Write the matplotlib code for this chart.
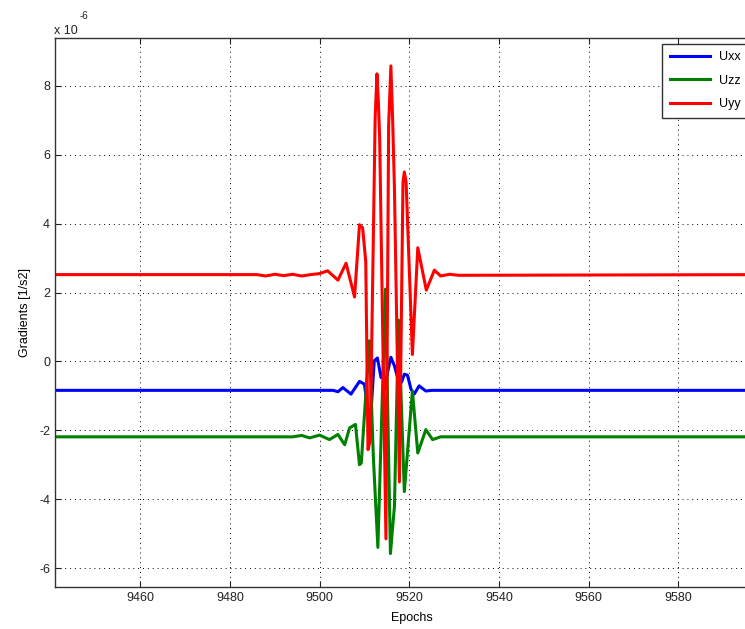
import matplotlib.pyplot as plt
from matplotlib.ticker import FormatStrFormatter

plt.rcParams['font.family'] = ['Liberation Sans', 'DejaVu Sans']
plt.rcParams['axes.unicode_minus'] = False

# values, gradients in units of 1e-6 [1/s2]
uxx_epoch = [9441, 9503, 9504.1, 9505.2, 9507.0, 9508.9, 9510.0, 9511.0, 9511.4, 9512.2,
             9512.9, 9513.7, 9514.2, 9514.6, 9515.2, 9515.9, 9516.7, 9517.4, 9518.3,
             9518.9, 9519.6, 9520.4, 9521.1, 9522.2, 9523.7, 9525, 9600]
uxx = [-0.84, -0.84, -0.88, -0.76, -0.95, -0.58, -0.66, -1.65, -1.6, 0.02,
       0.1, -0.47, -0.3, -0.8, -0.3, 0.12, -0.13, -0.47, -0.6,
       -0.37, -0.4, -0.81, -0.95, -0.71, -0.86, -0.84, -0.84]

uzz_epoch = [9441, 9494, 9496, 9497.8, 9500, 9502.2, 9504.1, 9505.6, 9506.7, 9508.0,
             9508.9, 9509.3, 9511.1, 9512.0, 9513.0, 9514.7, 9515.8, 9516.7, 9517.6,
             9518.9, 9520.7, 9521.9, 9523.7, 9525.2, 9527, 9600]
uzz = [-2.19, -2.19, -2.15, -2.22, -2.14, -2.27, -2.12, -2.42, -1.93, -1.83,
       -3.0, -2.95, 0.6, -2.8, -5.4, 2.1, -5.58, -4.2, 1.2,
       -3.78, -0.86, -2.66, -1.98, -2.27, -2.19, -2.19]

uyy_epoch = [9441, 9486, 9488, 9490, 9492, 9494, 9496, 9498, 9500, 9501.8,
             9504.1, 9505.9, 9507.8, 9508.9, 9509.6, 9510.3, 9510.8, 9511.3, 9512.4,
             9512.8, 9513.1, 9513.4, 9514.8, 9515.4, 9515.9, 9516.3, 9516.7, 9517.8,
             9518.6, 9518.9, 9519.3, 9520.7, 9521.9, 9523.8, 9525.6, 9527, 9529,
             9531, 9600]
uyy = [2.52, 2.52, 2.48, 2.53, 2.49, 2.53, 2.48, 2.52, 2.55, 2.63,
       2.36, 2.85, 1.87, 3.97, 3.88, 2.9, -2.56, -2.3, 7.1,
       8.35, 7.57, 6.5, -5.15, 6.84, 8.58, 7.0, 5.0, -3.5,
       5.2, 5.5, 5.2, 0.2, 3.3, 2.07, 2.65, 2.48, 2.53,
       2.5, 2.52]

x_ticks = [9460, 9480, 9500, 9520, 9540, 9560, 9580]
y_ticks = [-6, -4, -2, 0, 2, 4, 6, 8]

series = [('Uxx', uxx_epoch, uxx, 'blue'),
          ('Uzz', uzz_epoch, uzz, 'green'),
          ('Uyy', uyy_epoch, uyy, 'red')]

fig = plt.figure(figsize=(7.45, 6.29), dpi=100)
# axes runs past the right edge, as in the cropped original
ax = fig.add_axes([55 / 745, 42 / 629, 713 / 745, 549 / 629])

for name, ep, val, col in series:
    ax.plot(ep, val, color=col, lw=2.2, label=name)

ax.set_xlim(9441, 9600)
ax.set_ylim(-6.55, 9.39)
ax.set_xticks(x_ticks)
ax.set_yticks(y_ticks)
ax.yaxis.set_major_formatter(FormatStrFormatter('%g'))

# MATLAB style exponent label above the y axis
fig.text(54 / 745, 1 - 34 / 629, 'x 10', fontsize=9, color='#222222')
fig.text(80 / 745, 1 - 19 / 629, '-6', fontsize=7, color='#222222')

ax.tick_params(direction='in', length=4, width=0.8, top=True, right=True,
               labelsize=9, colors='#222222')
for s in ax.spines.values():
    s.set_color('#333333')
    s.set_linewidth(1.0)

ax.grid(True, color='black', linestyle=(0, (1, 4)), linewidth=0.7)
ax.set_axisbelow(True)

ax.set_xlabel('Epochs', fontsize=9, labelpad=6)
ax.set_ylabel('Gradients [1/s2]', fontsize=9, labelpad=6)

leg = ax.legend(loc='upper left', bbox_to_anchor=(662 / 745, 1 - 44 / 629),
                bbox_transform=fig.transFigure, fontsize=9, fancybox=False,
                framealpha=1, edgecolor='#333333', handlelength=3.2,
                borderaxespad=0, labelspacing=0.9, borderpad=0.6)
leg.get_frame().set_linewidth(1.0)

fig.savefig('out.png', dpi=100)
